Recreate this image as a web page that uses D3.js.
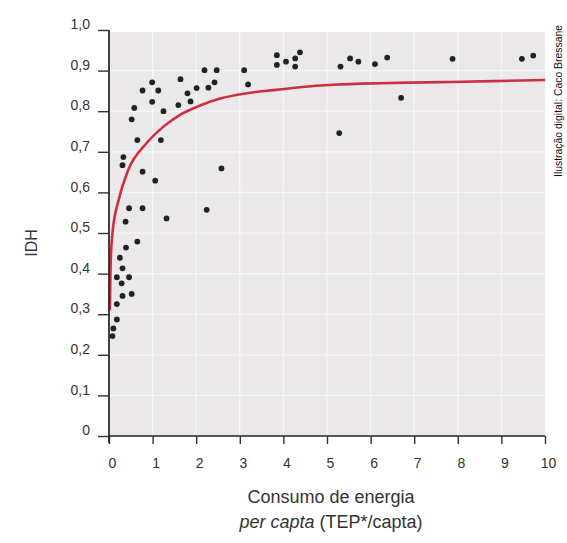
<!DOCTYPE html>
<html>
<head>
<meta charset="utf-8">
<script src="https://cdn.jsdelivr.net/npm/d3@7"></script>
<style>
  body { margin: 0; background: #fff; }
  text { font-family: "Liberation Sans", Arial, sans-serif; }
</style>
</head>
<body>
<svg class="chart" width="567" height="543"></svg>
<script>
// energia per capta (TEP/capta) x IDH, pontos por país
const consumo = [0.08, 0.10, 0.18, 0.18, 0.18, 0.25, 0.29, 0.31, 0.31, 0.31, 0.33, 0.38, 0.39, 0.46, 0.46,
  0.52, 0.52, 0.58, 0.65, 0.65, 0.77, 0.77, 0.77, 0.99, 0.99, 1.06, 1.13, 1.19, 1.25, 1.32,
  1.59, 1.64, 1.80, 1.87, 2.01, 2.19, 2.24, 2.28, 2.42, 2.47, 2.58, 3.10, 3.19,
  3.85, 3.85, 4.06, 4.27, 4.27, 4.38, 5.28, 5.31, 5.53, 5.72, 6.10, 6.38, 6.70, 7.88, 9.47, 9.73];
const idh = [0.246, 0.265, 0.287, 0.325, 0.391, 0.439, 0.376, 0.345, 0.413, 0.667, 0.687, 0.528, 0.464, 0.561, 0.391,
  0.780, 0.350, 0.808, 0.729, 0.479, 0.851, 0.651, 0.561, 0.871, 0.823, 0.629, 0.851, 0.729, 0.800, 0.536,
  0.815, 0.879, 0.844, 0.824, 0.857, 0.901, 0.557, 0.858, 0.871, 0.901, 0.659, 0.901, 0.866,
  0.938, 0.914, 0.922, 0.930, 0.910, 0.945, 0.746, 0.910, 0.930, 0.922, 0.916, 0.932, 0.833, 0.929, 0.929, 0.937];

// curva de ajuste
const curvaX = [0.02, 0.035, 0.08, 0.22, 0.44, 0.86, 1.25, 1.63, 2.09, 2.55, 3.16, 3.77, 4.38, 5.14, 6.22, 7.29, 8.81, 10];
const curvaY = [0.31, 0.417, 0.50, 0.581, 0.655, 0.721, 0.762, 0.791, 0.814, 0.831, 0.844, 0.852, 0.859, 0.865, 0.869, 0.871, 0.874, 0.877];

const xTicks = [0, 1, 2, 3, 4, 5, 6, 7, 8, 9, 10];
const yTicks = [0, 0.1, 0.2, 0.3, 0.4, 0.5, 0.6, 0.7, 0.8, 0.9, 1.0];
const yLabels = ["0", "0,1", "0,2", "0,3", "0,4", "0,5", "0,6", "0,7", "0,8", "0,9", "1,0"];

const svg = d3.select(".chart");

const x = d3.scaleLinear().domain([0, 10]).range([109, 545]);
const y = d3.scaleLinear().domain([0, 1]).range([436, 30]);

// fundo
svg.append('rect')
  .attr('x', x(0)).attr('y', 32)
  .attr('width', x(10) - x(0)).attr('height', y(0) - 32)
  .attr('fill', '#ebe8ea');

// grade clara
const grid = svg.append('g').attr('stroke', '#fff').attr('stroke-opacity', 0.6).attr('stroke-width', 1.2);
grid.selectAll('line.v').data(xTicks.slice(1, -1)).enter().append('line')
  .attr('x1', d => x(d)).attr('x2', d => x(d)).attr('y1', 32).attr('y2', y(0));
grid.selectAll('line.h').data(yTicks.slice(1, -1)).enter().append('line')
  .attr('y1', d => y(d)).attr('y2', d => y(d)).attr('x1', x(0)).attr('x2', x(10));

// curva
const line = d3.line().x(d => x(d[0])).y(d => y(d[1])).curve(d3.curveMonotoneX);
svg.append('path')
  .datum(curvaX.map((v, i) => [v, curvaY[i]]))
  .attr('d', line)
  .attr('fill', 'none')
  .attr('stroke', '#cc3040')
  .attr('stroke-width', 2.6);

// pontos
svg.append('g').selectAll('circle')
  .data(consumo.map((v, i) => [v, idh[i]]))
  .enter().append('circle')
  .attr('cx', d => x(d[0]))
  .attr('cy', d => y(d[1]))
  .attr('r', 2.9)
  .attr('fill', '#222');

// eixos
const xAxis = d3.axisBottom(x).tickValues(xTicks).tickFormat(d3.format('d')).tickSize(8).tickPadding(14);
const gx = svg.append('g').attr('transform', `translate(0,${y(0)})`).call(xAxis);
gx.select('.domain').attr('d', `M${x(0)},0H${x(10)}`).attr('stroke', '#222').attr('stroke-width', 1.7);
gx.selectAll('.tick line').attr('stroke', '#333').attr('stroke-width', 1.4);
gx.selectAll('.tick text').attr('font-size', 14).attr('fill', '#333').attr('dx', 3)
  .attr('font-family', '"Liberation Sans", Arial, sans-serif');

const yAxis = d3.axisLeft(y).tickValues(yTicks).tickFormat((d, i) => yLabels[i]).tickSize(11).tickPadding(8);
const gy = svg.append('g').attr('transform', `translate(${x(0)},0)`).call(yAxis);
gy.select('.domain').attr('d', `M0,${y(1)}V${y(0) + 7}`).attr('stroke', '#222').attr('stroke-width', 1.7);
gy.selectAll('.tick line').attr('stroke', '#333').attr('stroke-width', 1.4);
gy.selectAll('.tick text').attr('font-size', 14).attr('fill', '#333').attr('dy', '-0.1em')
  .attr('font-family', '"Liberation Sans", Arial, sans-serif');

// títulos
svg.append('text').attr('x', 331).attr('y', 503).attr('text-anchor', 'middle')
  .attr('font-size', 18).attr('fill', '#333').text('Consumo de energia');
const t2 = svg.append('text').attr('x', 331).attr('y', 528).attr('text-anchor', 'middle')
  .attr('font-size', 18).attr('fill', '#333');
t2.append('tspan').attr('font-style', 'italic').text('per capta');
t2.append('tspan').text(' (TEP*/capta)');

svg.append('text').attr('transform', 'translate(37,243) rotate(-90)').attr('text-anchor', 'middle')
  .attr('font-size', 16).attr('fill', '#333').text('IDH');

svg.append('text').attr('transform', 'translate(562,101) rotate(-90)').attr('text-anchor', 'middle')
  .attr('font-size', 11).attr('fill', '#111').attr('textLength', 152).attr('lengthAdjust', 'spacingAndGlyphs')
  .text('Ilustração digital: Caco Bressane');
</script>
</body>
</html>
